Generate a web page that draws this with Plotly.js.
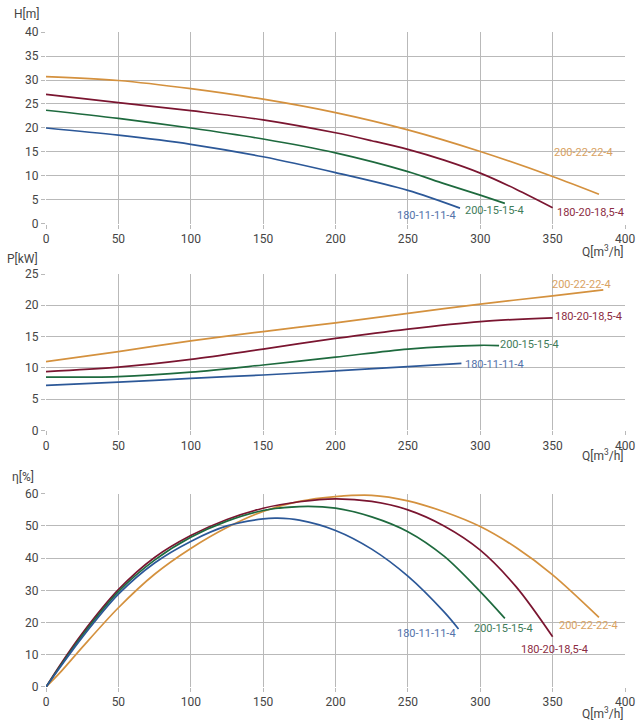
<!DOCTYPE html>
<html>
<head>
<meta charset="utf-8">
<script src="https://cdn.plot.ly/plotly-3.0.1.min.js"></script>
<style>html,body{margin:0;padding:0;background:#fff;}#chart{width:640px;height:722px;}</style>
</head>
<body>
<div id="chart"></div>
<script>
// Series names
const names = ["200-22-22-4", "180-20-18,5-4", "200-15-15-4", "180-11-11-4"];
const colors = ["#d4913e", "#7a1530", "#1e6a3e", "#2c5898"];
const labelColors = ["#d9a262", "#8c2c42", "#3f7c5a", "#5473aa"];

// Head H [m] vs Q [m3/h]
const hQ_orange = [0, 50, 100, 150, 200, 250, 300, 350, 382];
const hH_orange = [30.7, 29.9, 28.2, 26.0, 23.2, 19.6, 15.1, 9.9, 6.2];
const hQ_red = [0, 50, 100, 150, 200, 225, 250, 275, 300, 325, 350];
const hH_red = [27.0, 25.3, 23.6, 21.7, 19.0, 17.35, 15.55, 13.3, 10.6, 7.2, 3.4];
const hQ_green = [0, 50, 100, 150, 200, 250, 275, 300, 317];
const hH_green = [23.7, 22.0, 20.0, 17.7, 14.8, 10.9, 8.4, 6.0, 4.3];
const hQ_blue = [0, 50, 100, 150, 200, 250, 286];
const hH_blue = [20.0, 18.5, 16.6, 14.0, 10.7, 7.0, 3.3];

// Power P [kW] vs Q
const pQ_orange = [0, 50, 100, 150, 200, 250, 300, 350, 385];
const pP_orange = [11.0, 12.6, 14.3, 15.8, 17.2, 18.7, 20.2, 21.5, 22.45];
const pQ_red = [0, 50, 100, 150, 200, 250, 300, 350];
const pP_red = [9.4, 10.1, 11.35, 13.0, 14.7, 16.2, 17.4, 18.0];
const pQ_green = [0, 50, 100, 150, 200, 250, 300, 313];
const pP_green = [8.5, 8.6, 9.3, 10.45, 11.7, 13.0, 13.6, 13.55];
const pQ_blue = [0, 50, 100, 150, 200, 250, 287];
const pP_blue = [7.2, 7.7, 8.3, 8.85, 9.5, 10.2, 10.7];

// Efficiency eta [%] vs Q
const eQ_orange = [0, 10, 25, 50, 75, 100, 125, 150, 175, 200, 225, 250, 275, 300, 325, 350, 382];
const eE_orange = [0, 4.6, 12.3, 24.6, 35.0, 43.0, 49.5, 54.5, 57.6, 59.1, 59.5, 57.8, 54.4, 49.8, 43.2, 34.8, 21.6];
const eQ_red = [0, 10, 25, 50, 75, 100, 125, 150, 175, 200, 225, 250, 275, 300, 325, 350];
const eE_red = [0, 7.0, 16.6, 30.2, 40.2, 47.0, 52.0, 55.5, 57.5, 58.4, 57.6, 55.0, 50.0, 42.5, 31.0, 15.6];
const eQ_green = [0, 10, 25, 50, 75, 100, 125, 150, 175, 200, 225, 250, 275, 300, 317];
const eE_green = [0, 6.6, 16.0, 29.6, 39.4, 46.5, 51.5, 54.8, 56.0, 55.5, 52.8, 48.2, 40.6, 29.6, 21.3];
const eQ_blue = [0, 10, 25, 50, 75, 100, 125, 150, 160, 175, 200, 225, 250, 275, 285];
const eE_blue = [0, 6.3, 15.4, 28.8, 38.5, 45.2, 50.0, 52.2, 52.4, 51.8, 48.6, 42.8, 34.4, 23.3, 18.0];

// Tick values
const qTicks = [0, 50, 100, 150, 200, 250, 300, 350, 400];
const hTicks = [0, 5, 10, 15, 20, 25, 30, 35, 40];
const pTicks = [0, 5, 10, 15, 20, 25];
const eTicks = [0, 10, 20, 30, 40, 50, 60];

// Label anchor positions (data coords)
const hLabelQ = [371, 376, 309.5, 263];
const hLabelY = [14.8, 2.3, 2.9, 1.7];
const pLabelQ = [370, 374.5, 333.7, 309.5];
const pLabelY = [23.4, 18.2, 13.65, 10.55];
const eLabelQ = [374.5, 351, 316.4, 263];
const eLabelY = [19.2, 11.7, 18.3, 16.7];

const H = [[hQ_orange, hH_orange], [hQ_red, hH_red], [hQ_green, hH_green], [hQ_blue, hH_blue]];
const P = [[pQ_orange, pP_orange], [pQ_red, pP_red], [pQ_green, pP_green], [pQ_blue, pP_blue]];
const E = [[eQ_orange, eE_orange], [eQ_red, eE_red], [eQ_green, eE_green], [eQ_blue, eE_blue]];

const traces = [];
function addSet(set, xa, ya) {
  set.forEach((s, i) => {
    traces.push({
      x: s[0], y: s[1], xaxis: xa, yaxis: ya, type: 'scatter', mode: 'lines',
      line: {color: colors[i], width: 1.7, shape: 'spline', smoothing: 0.9},
      name: names[i], showlegend: false, hoverinfo: 'skip'
    });
  });
}
addSet(H, 'x', 'y');
addSet(P, 'x2', 'y2');
addSet(E, 'x3', 'y3');

const tickFont = {family: 'Roboto, sans-serif', size: 12, color: '#454545'};
const grid = '#b9b9b9';
function xAx(anchor) {
  return {range: [0, 400], tickvals: qTicks, anchor: anchor, showgrid: true, gridcolor: grid, gridwidth: 1,
    zeroline: false, showline: false, ticks: 'outside', ticklen: 4, tickcolor: grid, tickfont: tickFont, fixedrange: true};
}
function yAx(anchor, range, tv, dom) {
  return {range: range, tickvals: tv, anchor: anchor, domain: dom, showgrid: true, gridcolor: grid, gridwidth: 1,
    zeroline: false, showline: false, ticks: 'outside', ticklen: 4, tickcolor: grid, tickfont: tickFont, fixedrange: true};
}

const annotations = [];
const labFont = (i) => ({family: 'Roboto, sans-serif', size: 11, color: labelColors[i]});
names.forEach((n, i) => {
  annotations.push({x: hLabelQ[i], y: hLabelY[i], xref: 'x', yref: 'y', text: n, showarrow: false, font: labFont(i), xanchor: 'center', yanchor: 'middle'});
  annotations.push({x: pLabelQ[i], y: pLabelY[i], xref: 'x2', yref: 'y2', text: n, showarrow: false, font: labFont(i), xanchor: 'center', yanchor: 'middle'});
  annotations.push({x: eLabelQ[i], y: eLabelY[i], xref: 'x3', yref: 'y3', text: n, showarrow: false, font: labFont(i), xanchor: 'center', yanchor: 'middle'});
});
const tFont = {family: 'Roboto, sans-serif', size: 12, color: '#454545'};
const qLabel = 'Q[m<sup>3</sup>/h]';
annotations.push({x: -0.0345, y: 1.028, xref: 'paper', yref: 'paper', text: 'H[m]', showarrow: false, font: tFont, xanchor: 'center', yanchor: 'middle'});
annotations.push({x: -0.040, y: 0.6534, xref: 'paper', yref: 'paper', text: 'P[kW]', showarrow: false, font: tFont, xanchor: 'center', yanchor: 'middle'});
annotations.push({x: -0.040, y: 0.3206, xref: 'paper', yref: 'paper', text: 'η[%]', showarrow: false, font: tFont, xanchor: 'center', yanchor: 'middle'});
annotations.push({x: 1.0, y: 0.6656, xref: 'paper', yref: 'paper', text: qLabel, showarrow: false, font: tFont, xanchor: 'right', yanchor: 'middle'});
annotations.push({x: 1.0, y: 0.3542, xref: 'paper', yref: 'paper', text: qLabel, showarrow: false, font: tFont, xanchor: 'right', yanchor: 'middle'});
annotations.push({x: 1.0, y: -0.0397, xref: 'paper', yref: 'paper', text: qLabel, showarrow: false, font: tFont, xanchor: 'right', yanchor: 'middle'});

const layout = {
  width: 640, height: 722,
  margin: {l: 46, r: 15, t: 32, b: 35, pad: 0},
  paper_bgcolor: '#ffffff', plot_bgcolor: '#ffffff',
  showlegend: false,
  font: {family: 'Roboto, sans-serif'},
  xaxis: xAx('y'),
  yaxis: yAx('x', [0, 40], hTicks, [0.7069, 1.0]),
  xaxis2: xAx('y2'),
  yaxis2: yAx('x2', [0, 25], pTicks, [0.3919, 0.6305]),
  xaxis3: xAx('y3'),
  yaxis3: yAx('x3', [0, 60], eTicks, [0, 0.2951]),
  annotations: annotations
};

Plotly.newPlot('chart', traces, layout, {staticPlot: true, displayModeBar: false});
</script>
</body>
</html>
